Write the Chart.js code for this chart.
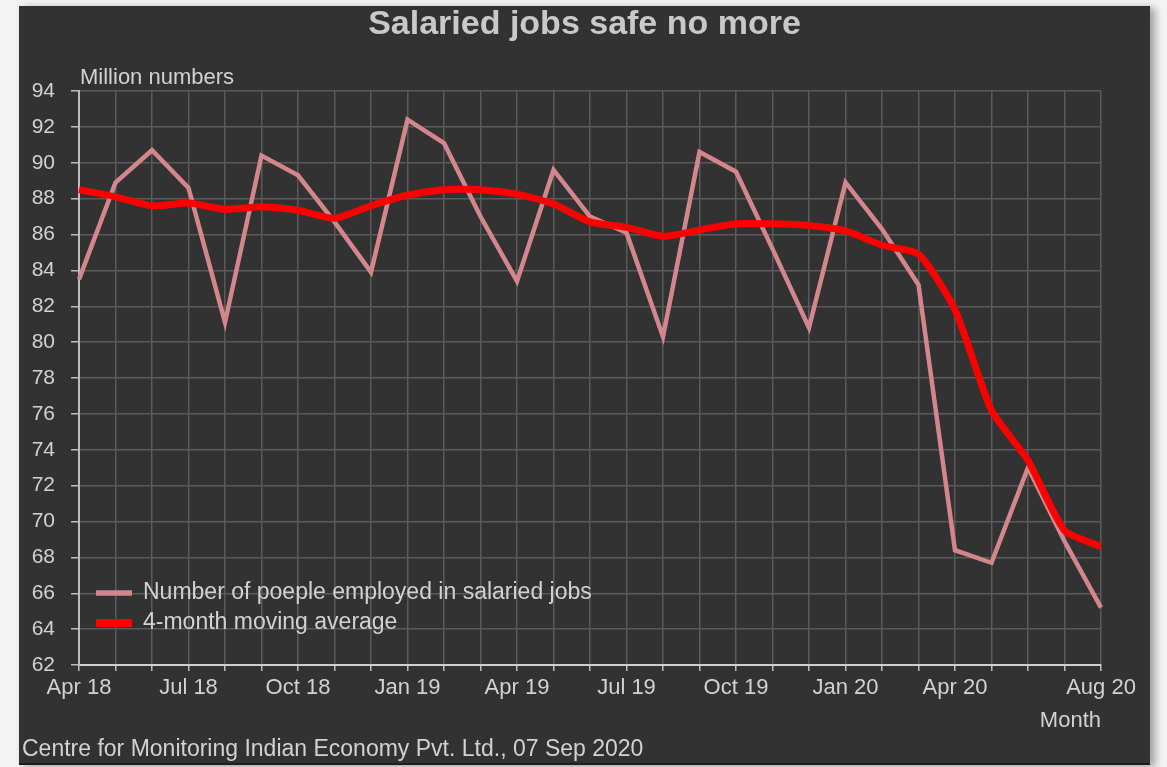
<!DOCTYPE html>
<html>
<head>
<meta charset="utf-8">
<title>Salaried jobs safe no more</title>
<script src="https://cdn.jsdelivr.net/npm/chart.js@4/dist/chart.umd.min.js"></script>
<style>
    body {
        margin: 0;
        background: #f3f3f3;
        width: 1167px;
        height: 767px;
        overflow: hidden;
        position: relative;
    }
    #painel {
        position: absolute;
        left: 19px;
        top: 6px;
        width: 1131px;
        height: 757px;
        background: #323232;
        box-shadow: 5px 2px 8px rgba(0, 0, 0, 0.35);
        border-bottom: 2px solid #1e1e1e;
    }
</style>
</head>
<body>
<div id="painel">
    <canvas id="graficoEmpregos" width="1131" height="757"></canvas>
</div>
<script>
// meses da serie (abr/2018 a ago/2020)
const meses = ['Apr 18', 'May 18', 'Jun 18', 'Jul 18', 'Aug 18', 'Sep 18', 'Oct 18', 'Nov 18', 'Dec 18',
    'Jan 19', 'Feb 19', 'Mar 19', 'Apr 19', 'May 19', 'Jun 19', 'Jul 19', 'Aug 19', 'Sep 19', 'Oct 19',
    'Nov 19', 'Dec 19', 'Jan 20', 'Feb 20', 'Mar 20', 'Apr 20', 'May 20', 'Jun 20', 'Jul 20', 'Aug 20'];

// rotulos que aparecem no eixo x
const rotulosEixoX = ['Apr 18', 'Jul 18', 'Oct 18', 'Jan 19', 'Apr 19', 'Jul 19', 'Oct 19', 'Jan 20', 'Apr 20', 'Aug 20'];

// milhoes de pessoas em empregos assalariados
const empregados = [83.5, 88.9, 90.7, 88.6, 81.1, 90.4, 89.3, 86.7, 83.9,
    92.4, 91.1, 87.0, 83.4, 89.6, 87.0, 86.1, 80.3, 90.6, 89.5,
    85.2, 80.8, 88.9, 86.3, 83.2, 68.4, 67.7, 73.0, 68.9, 65.2];

// media movel de 4 meses
const mediaMovel = [88.5, 88.1, 87.6, 87.75, 87.4, 87.55, 87.35, 86.9, 87.6,
    88.2, 88.5, 88.5, 88.25, 87.7, 86.7, 86.4, 85.9, 86.25, 86.6,
    86.6, 86.5, 86.2, 85.4, 84.9, 81.8, 76.2, 73.4, 69.5, 68.6];

const nomesSeries = ['Number of poeple employed in salaried jobs', '4-month moving average'];

const corTexto = '#d2d2d2';
const fonte = '"Liberation Sans", Arial, Helvetica, sans-serif';

// titulo, unidade, legenda e fonte desenhados por cima do grafico
const decoracao = {
    id: 'decoracao',
    afterDraw(chart) {
        const ctx = chart.ctx;
        const area = chart.chartArea;
        ctx.save();
        ctx.fillStyle = '#c9c9c9';
        ctx.font = 'bold 34px ' + fonte;
        ctx.textAlign = 'center';
        ctx.textBaseline = 'alphabetic';
        ctx.fillText('Salaried jobs safe no more', chart.width / 2, 28);

        ctx.fillStyle = corTexto;
        ctx.font = '22px ' + fonte;
        ctx.textAlign = 'left';
        ctx.fillText('Million numbers', area.left + 1, area.top - 7);

        ctx.textAlign = 'right';
        ctx.fillText('Month', area.right, 721);

        ctx.font = '23px ' + fonte;
        ctx.textAlign = 'left';
        ctx.fillText('Centre for Monitoring Indian Economy Pvt. Ltd., 07 Sep 2020', 3, 750);

        // legenda dentro da area do grafico
        chart.data.datasets.forEach(function (ds, i) {
            const y = 587 + i * 30;
            ctx.strokeStyle = ds.borderColor;
            ctx.lineWidth = ds.borderWidth + 1;
            ctx.lineCap = 'butt';
            ctx.beginPath();
            ctx.moveTo(area.left + 17, y);
            ctx.lineTo(area.left + 53, y);
            ctx.stroke();
            ctx.fillStyle = corTexto;
            ctx.textBaseline = 'middle';
            ctx.fillText(ds.label, area.left + 64, y);
        });
        ctx.restore();
    }
};

function plotarGrafico() {
    const dados = {
        labels: meses,
        datasets: [{
            label: nomesSeries[0],
            data: empregados,
            borderColor: '#d4868d',
            borderWidth: 4.5,
            pointRadius: 0,
            tension: 0,
            borderJoinStyle: 'miter',
            order: 2
        }, {
            label: nomesSeries[1],
            data: mediaMovel,
            borderColor: '#ff0000',
            borderWidth: 7,
            pointRadius: 0,
            tension: 0.2,
            borderJoinStyle: 'round',
            order: 1
        }]
    };

    const config = {
        type: 'line',
        data: dados,
        options: {
            responsive: false,
            animation: false,
            layout: {
                padding: { top: 85, right: 49, left: 0, bottom: 0 }
            },
            plugins: {
                legend: { display: false },
                tooltip: { enabled: false }
            },
            scales: {
                x: {
                    afterFit: function (scale) { scale.height = 98; },
                    grid: { color: '#5a5a5a', lineWidth: 1.5, tickColor: '#bdbdbd', tickLength: 6 },
                    border: { color: '#cfcfcf', width: 2 },
                    ticks: {
                        autoSkip: false,
                        maxRotation: 0,
                        padding: 4,
                        color: corTexto,
                        font: { family: fonte, size: 22 },
                        callback: function (valor, indice) {
                            const mes = meses[indice];
                            return rotulosEixoX.includes(mes) ? mes : '';
                        }
                    }
                },
                y: {
                    min: 62,
                    max: 94,
                    afterFit: function (scale) { scale.width = 60; },
                    grid: { color: '#5a5a5a', lineWidth: 1.5, tickColor: '#bdbdbd', tickLength: 8 },
                    border: { color: '#bdbdbd', width: 2 },
                    ticks: {
                        stepSize: 2,
                        padding: 16,
                        color: corTexto,
                        font: { family: fonte, size: 21 }
                    }
                }
            }
        },
        plugins: [decoracao]
    };

    const ctx = document.getElementById('graficoEmpregos').getContext('2d');
    new Chart(ctx, config);
}
window.addEventListener('load', plotarGrafico);
</script>
</body>
</html>
